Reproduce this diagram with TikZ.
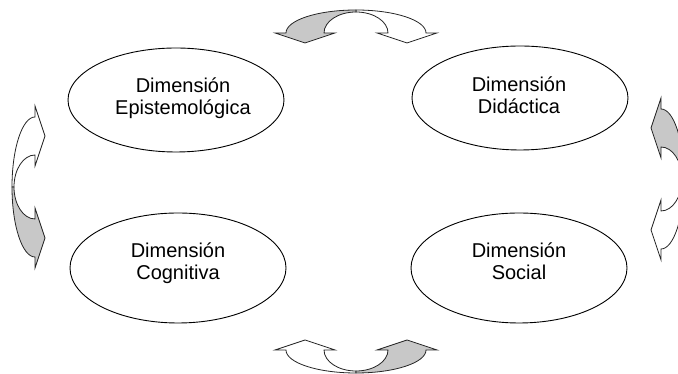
\documentclass[tikz,border=0pt]{standalone}
\usepackage{fontspec}
\setmainfont{Liberation Sans}
\usetikzlibrary{shapes.geometric}
\definecolor{arrowgray}{HTML}{C8C8C8}
\tikzset{
  dimbox/.style={ellipse, draw=black, line width=0.9pt, inner sep=0pt,
    minimum width=216pt, minimum height=#1},
  lbl/.style={font=\fontsize{20}{22}\selectfont, align=center, anchor=base, inner sep=0pt},
  bandgray/.style={draw=black!85, fill=arrowgray, line width=0.8pt},
  bandwhite/.style={draw=black!85, fill=white, line width=0.8pt},
  % a pair of curved arrows bending over a common arch
  pics/swap/.style={code={
    \draw[bandwhite] (0,23) arc[start angle=90, end angle=0, x radius=70, y radius=23]
      -- (81,0) -- (51,-10) -- (21,0) -- (32,0)
      arc[start angle=0, end angle=90, x radius=32, y radius=21] -- cycle;
    \draw[bandgray] (0,23) arc[start angle=90, end angle=180, x radius=70, y radius=23]
      -- (-81,0) -- (-51,-10) -- (-21,0) -- (-32,0)
      arc[start angle=180, end angle=90, x radius=32, y radius=21] -- cycle;
  }}
}
\begin{document}
\begin{tikzpicture}[x=1pt, y=1pt]
  \fill[white] (0,0) rectangle (678,374);
  \useasboundingbox (0,0) rectangle (678,374);

  % the four dimensions
  \node[dimbox=104pt] (epi) at (176,274) {};
  \node[dimbox=104pt] (did) at (520,276) {};
  \node[dimbox=110pt] (cog) at (178,106) {};
  \node[dimbox=110pt] (soc) at (519,106) {};

  % labels, placed by the baseline of their last line
  \node[lbl] (epitxt) at (183,259) {Dimensión\\Epistemológica};
  \node[lbl] (didtxt) at (519,260) {Dimensión\\Didáctica};
  \node[lbl] (cogtxt) at (178,94) {Dimensión\\Cognitiva};
  \node[lbl] (soctxt) at (519,94) {Dimensión\\Social};

  % curved double arrows between neighbouring dimensions
  \pic (swaptop) at (356,341) {swap};
  \pic[rotate=90] (swapleft) at (35,187) {swap};
  \pic[rotate=-90] (swapright) at (661,195) {swap};
  \pic[rotate=180] (swapbottom) at (356,24) {swap};
\end{tikzpicture}
\end{document}
